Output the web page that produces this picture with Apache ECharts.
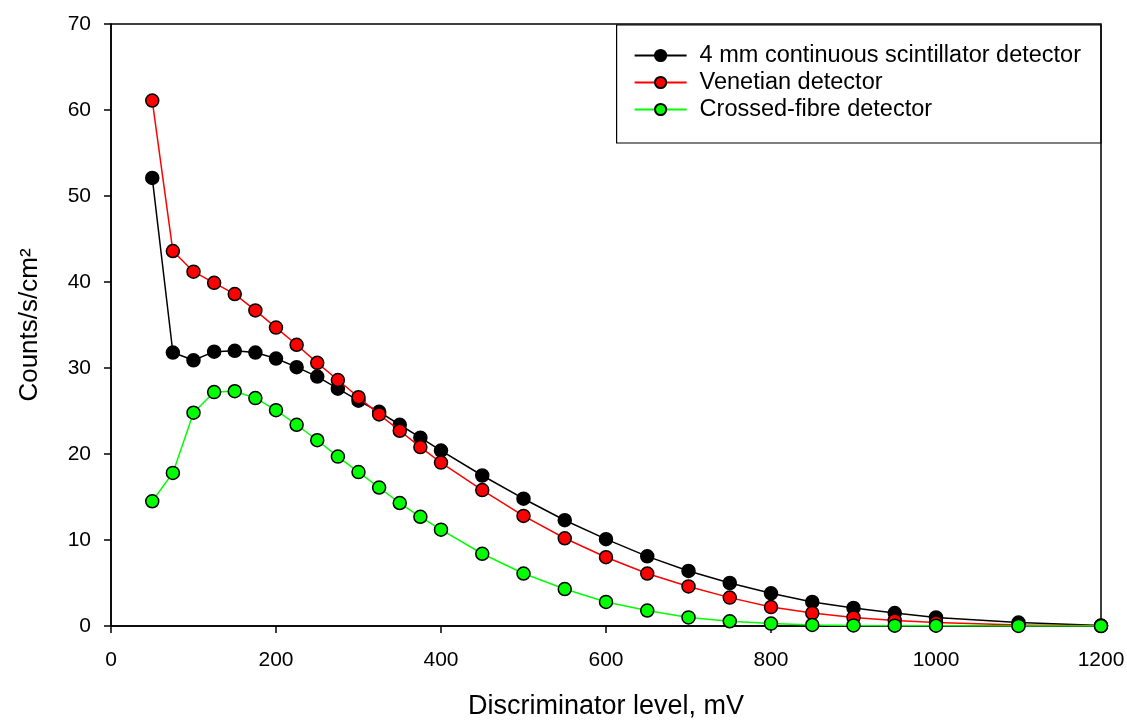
<!DOCTYPE html>
<html>
<head>
<meta charset="utf-8">
<script src="https://cdn.jsdelivr.net/npm/echarts@6/dist/echarts.min.js"></script>
<style>
  html, body { margin: 0; padding: 0; background: #fff; }
  #chart { width: 1127px; height: 720px; }
</style>
</head>
<body>
<div id="chart"></div>
<script>
// discriminator levels, mV
const levels = [50, 75, 100, 125, 150, 175, 200, 225, 250, 275, 300, 325, 350, 375, 400,
  450, 500, 550, 600, 650, 700, 750, 800, 850, 900, 950, 1000, 1100, 1200];

// counts/s/cm2 per detector
const continuous = [52.1, 31.8, 30.9, 31.9, 32.0, 31.8, 31.1, 30.1, 29.0, 27.6, 26.2, 24.9, 23.4, 21.9, 20.4,
  17.5, 14.8, 12.3, 10.1, 8.1, 6.4, 5.0, 3.8, 2.8, 2.1, 1.5, 1.0, 0.4, 0.05];
const venetian = [61.1, 43.6, 41.2, 39.9, 38.6, 36.7, 34.7, 32.7, 30.6, 28.6, 26.6, 24.6, 22.7, 20.8, 19.0,
  15.8, 12.8, 10.2, 8.0, 6.1, 4.6, 3.3, 2.2, 1.5, 1.0, 0.65, 0.4, 0.12, 0.02];
const crossed = [14.5, 17.8, 24.8, 27.2, 27.3, 26.5, 25.1, 23.4, 21.6, 19.7, 17.9, 16.1, 14.3, 12.7, 11.2,
  8.4, 6.1, 4.3, 2.8, 1.8, 1.0, 0.55, 0.28, 0.12, 0.07, 0.04, 0.03, 0.01, 0.0];

const seriesNames = ['4 mm continuous scintillator detector', 'Venetian detector', 'Crossed-fibre detector'];
const seriesColors = ['#000000', '#ff0000', '#00ff00'];
const seriesValues = [continuous, venetian, crossed];

const font = 'Liberation Sans, Arial, sans-serif';

const chart = echarts.init(document.getElementById('chart'), null, { renderer: 'canvas' });

const makeSeries = (name, i) => ({
  name: name,
  type: 'line',
  data: levels.map((x, k) => [x, seriesValues[i][k]]),
  symbol: 'circle',
  symbolSize: 13,
  lineStyle: { color: seriesColors[i], width: 1.5 },
  itemStyle: { color: seriesColors[i], borderColor: '#000', borderWidth: 1.5 },
  emphasis: { disabled: true },
  z: 2 + i
});

chart.setOption({
  animation: false,
  backgroundColor: '#fff',
  grid: {
    left: 111, right: 26, top: 24, bottom: 94,
    show: true, borderColor: '#000', borderWidth: 1.5,
    outerBoundsMode: 'none'
  },
  legend: {
    right: 26,
    top: 25,
    orient: 'vertical',
    align: 'left',
    borderColor: '#000',
    borderWidth: 1.2,
    padding: [17, 20, 20, 17],
    itemWidth: 52,
    itemHeight: 14,
    itemGap: 0,
    textStyle: { fontFamily: font, fontSize: 23.5, color: '#000', lineHeight: 27, padding: [0, 0, 0, 8] },
    data: seriesNames
  },
  xAxis: {
    type: 'value',
    min: 0, max: 1200, interval: 200,
    name: 'Discriminator level, mV',
    nameLocation: 'middle',
    nameGap: 67,
    nameTextStyle: { fontFamily: font, fontSize: 27, color: '#000' },
    axisLine: { show: true, onZero: false, lineStyle: { color: '#000', width: 1.5 } },
    axisTick: { show: true, inside: false, length: 7, lineStyle: { color: '#000', width: 1.5 } },
    axisLabel: { fontFamily: font, fontSize: 21, color: '#000', margin: 24, formatter: v => String(v) },
    splitLine: { show: false }
  },
  yAxis: {
    type: 'value',
    min: 0, max: 70, interval: 10,
    name: 'Counts/s/cm²',
    nameLocation: 'middle',
    nameRotate: 90,
    nameGap: 68,
    nameTextStyle: { fontFamily: font, fontSize: 26, color: '#000' },
    axisLine: { show: true, onZero: false, lineStyle: { color: '#000', width: 1.5 } },
    axisTick: { show: true, inside: false, length: 7, lineStyle: { color: '#000', width: 1.5 } },
    axisLabel: { fontFamily: font, fontSize: 21, color: '#000', margin: 20 },
    splitLine: { show: false }
  },
  series: seriesNames.map(makeSeries)
});
</script>
</body>
</html>
